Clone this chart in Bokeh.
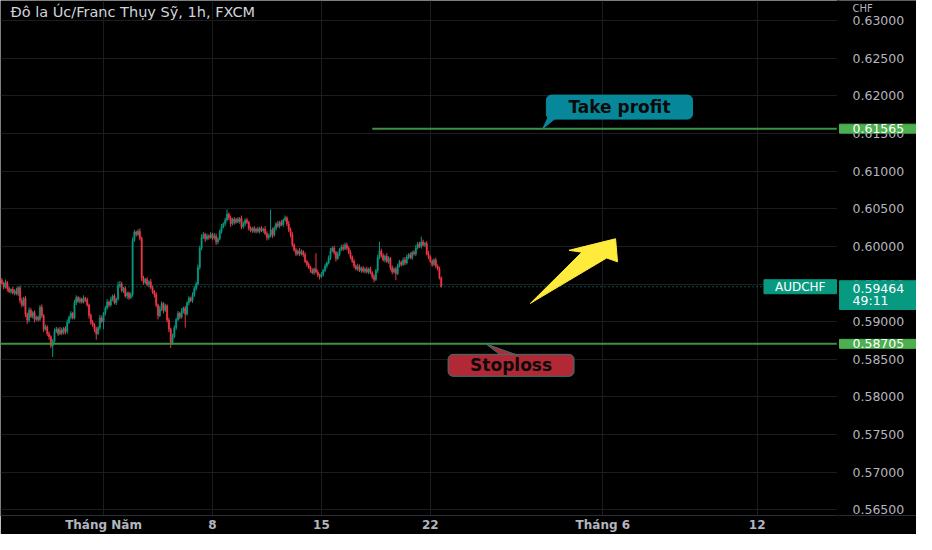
from bokeh.plotting import figure
from bokeh.models import ColumnDataSource, FixedTicker, PrintfTickFormatter, Label, BoxAnnotation
from bokeh.embed import file_html
from bokeh.resources import INLINE

# ---------------- data ----------------
title_text = "Đô la Úc/Franc Thụy Sỹ, 1h, FXCM"
symbol = "AUDCHF"
currency = "CHF"
countdown = "49:11"

# trading-hour index of each 2h candle (0 = 1 May 00:00, weekends skipped)
bar_hours = list(range(-112, 374, 2))
first_open = 0.5955
closes = [
    0.5951, 0.5946, 0.5952, 0.5944, 0.5940, 0.5943, 0.5938, 0.5941, 0.5937, 0.5945,
    0.5928, 0.5922, 0.5931, 0.5910, 0.5902, 0.5915, 0.5907, 0.5912, 0.5903, 0.5906,
    0.5903, 0.5919, 0.5908, 0.5890, 0.5893, 0.5884, 0.5880, 0.5868, 0.5874, 0.5887,
    0.5890, 0.5884, 0.5889, 0.5885, 0.5891, 0.5887, 0.5899, 0.5906, 0.5911, 0.5905,
    0.5925, 0.5932, 0.5927, 0.5930, 0.5926, 0.5931, 0.5929, 0.5922, 0.5908, 0.5899,
    0.5896, 0.5890, 0.5884, 0.5892, 0.5905, 0.5900, 0.5911, 0.5918, 0.5926, 0.5922,
    0.5930, 0.5934, 0.5925, 0.5930, 0.5948, 0.5950, 0.5941, 0.5944, 0.5934, 0.5938,
    0.5932, 0.5936, 0.6008, 0.6019, 0.6016, 0.6020, 0.6011, 0.5958, 0.5952, 0.5956,
    0.5949, 0.5953, 0.5945, 0.5940, 0.5936, 0.5922, 0.5908, 0.5917, 0.5924, 0.5915,
    0.5921, 0.5902, 0.5890, 0.5872, 0.5880, 0.5892, 0.5903, 0.5911, 0.5906, 0.5914,
    0.5918, 0.5910, 0.5925, 0.5931, 0.5928, 0.5935, 0.5944, 0.5950, 0.5972, 0.5998,
    0.6012, 0.6016, 0.6010, 0.6014, 0.6012, 0.6016, 0.6011, 0.6014, 0.6006, 0.6010,
    0.6020, 0.6026, 0.6030, 0.6035, 0.6043, 0.6038, 0.6030, 0.6036, 0.6032, 0.6036,
    0.6033, 0.6037, 0.6026, 0.6030, 0.6035, 0.6032, 0.6024, 0.6021, 0.6024, 0.6020,
    0.6023, 0.6020, 0.6024, 0.6021, 0.6023, 0.6017, 0.6012, 0.6015, 0.6022, 0.6015,
    0.6024, 0.6030, 0.6027, 0.6032, 0.6029, 0.6035, 0.6038, 0.6030, 0.6022, 0.6016,
    0.6002, 0.5995, 0.5990, 0.5994, 0.5990, 0.5993, 0.5989, 0.5980, 0.5976, 0.5972,
    0.5968, 0.5965, 0.5970, 0.5966, 0.5962, 0.5960, 0.5963, 0.5968, 0.5974, 0.5978,
    0.5985, 0.5994, 0.5998, 0.5992, 0.5984, 0.5990, 0.5996, 0.5999, 0.5997, 0.6002,
    0.5998, 0.5992, 0.5986, 0.5980, 0.5974, 0.5970, 0.5973, 0.5968, 0.5971, 0.5967,
    0.5970, 0.5966, 0.5970, 0.5965, 0.5960, 0.5956, 0.5968, 0.5985, 0.5994, 0.5988,
    0.5982, 0.5987, 0.5980, 0.5984, 0.5972, 0.5966, 0.5970, 0.5964, 0.5975, 0.5979,
    0.5976, 0.5982, 0.5978, 0.5986, 0.5989, 0.5985, 0.5992, 0.5990, 0.5998, 0.6003,
    0.6000, 0.6006, 0.6002, 0.6004, 0.5990, 0.5986, 0.5980, 0.5976, 0.5982, 0.5974,
    0.5970, 0.5958, 0.59464,
]
# wick lengths beyond the candle body, in pips
upper_wick_pips = [
    3, 2, 4, 2, 3, 1, 3, 2, 4, 2,
    3, 4, 2, 3, 2, 4, 3, 2, 3, 2,
    2, 3, 4, 2, 3, 2, 3, 2, 3, 4,
    3, 2, 4, 3, 2, 3, 4, 2, 3, 2,
    4, 3, 2, 3, 2, 4, 2, 3, 2, 3,
    3, 2, 3, 2, 4, 3, 2, 3, 4, 2,
    3, 2, 3, 2, 5, 4, 3, 2, 3, 2,
    2, 3, 4, 3, 2, 3, 4, 2, 3, 2,
    3, 2, 4, 3, 2, 3, 2, 4, 3, 2,
    3, 2, 3, 2, 4, 3, 2, 3, 2, 4,
    2, 3, 2, 3, 2, 4, 3, 3, 4, 3,
    4, 3, 2, 3, 2, 3, 2, 4, 3, 2,
    3, 4, 2, 3, 6, 2, 3, 2, 3, 2,
    3, 2, 4, 3, 2, 3, 2, 3, 2, 3,
    2, 3, 2, 3, 2, 4, 3, 2, 27, 3,
    3, 2, 4, 2, 3, 2, 3, 2, 4, 3,
    3, 2, 3, 2, 4, 3, 2, 3, 2, 3,
    2, 3, 2, 21, 3, 2, 3, 2, 3, 2,
    3, 4, 2, 3, 2, 3, 2, 3, 4, 3,
    3, 2, 3, 2, 3, 2, 4, 3, 2, 3,
    2, 3, 2, 3, 2, 3, 2, 4, 12, 3,
    3, 2, 4, 3, 2, 3, 2, 3, 2, 3,
    2, 3, 4, 3, 2, 3, 2, 3, 4, 3,
    3, 7, 3, 2, 3, 4, 2, 3, 2, 3,
    2, 3, 2,
]
lower_wick_pips = [
    2, 3, 2, 4, 2, 3, 2, 3, 2, 3,
    4, 3, 2, 4, 5, 3, 2, 3, 4, 2,
    3, 2, 3, 4, 2, 3, 4, 3, 15, 2,
    2, 3, 2, 3, 2, 4, 3, 2, 3, 2,
    2, 3, 2, 3, 2, 2, 3, 2, 4, 3,
    3, 4, 8, 2, 3, 2, 10, 3, 2, 3,
    2, 3, 2, 3, 2, 3, 2, 3, 2, 4,
    3, 2, 3, 2, 3, 2, 3, 4, 3, 2,
    2, 3, 2, 3, 4, 3, 5, 2, 3, 4,
    2, 3, 4, 7, 3, 2, 3, 2, 3, 2,
    3, 18, 2, 3, 2, 3, 2, 3, 2, 3,
    3, 2, 4, 2, 3, 2, 3, 2, 4, 3,
    2, 3, 2, 3, 2, 3, 4, 2, 3, 2,
    2, 3, 3, 2, 3, 2, 3, 2, 3, 2,
    3, 2, 3, 2, 3, 2, 4, 3, 3, 4,
    2, 3, 2, 3, 2, 3, 2, 3, 3, 4,
    3, 2, 3, 2, 3, 2, 3, 2, 3, 2,
    3, 2, 3, 2, 3, 4, 2, 3, 2, 3,
    2, 3, 2, 3, 4, 2, 3, 2, 3, 2,
    3, 2, 3, 2, 3, 2, 3, 2, 3, 2,
    3, 2, 3, 2, 3, 4, 2, 3, 2, 3,
    2, 3, 2, 3, 4, 3, 2, 9, 2, 3,
    3, 2, 3, 2, 3, 2, 3, 2, 3, 2,
    2, 3, 2, 3, 2, 3, 2, 3, 2, 3,
    2, 2, 1,
]

date_ticks = [0, 120, 240, 360, 550, 720]
date_labels = ["Tháng Năm", "8", "15", "22", "Tháng 6", "12"]
price_ticks = [0.565, 0.570, 0.575, 0.580, 0.585, 0.590, 0.595,
               0.600, 0.605, 0.610, 0.615, 0.620, 0.625, 0.630]

last_price = 0.59464
take_profit = 0.61565
stop_loss = 0.58705
take_profit_from = 296          # hour where the take-profit line starts

# drawing annotations (data coordinates: hour index, price)
arrow_hours = [470.2, 526.9, 512.7, 564.0, 566.2, 554.2]
arrow_prices = [0.59243, 0.59923, 0.59948, 0.60102, 0.59795, 0.59846]
tp_box_center = (568.3, 0.61852)
tp_pointer_hours = [489.8, 499.6, 483.8]
tp_pointer_prices = [0.61720, 0.61720, 0.61565]
sl_box_center = (448.9, 0.58419)
sl_pointer_hours = [421.1, 438.5, 458.2]
sl_pointer_prices = [0.58705, 0.58545, 0.58545]

pane_end = 808.5                 # hour where the price pane meets the price scale
x_view = (-113.5, 895.5)         # includes the price-scale strip
y_view = (0.56423, 0.63269)

# ---------------- derived candle table ----------------
opens = [first_open] + closes[:-1]
highs = [max(o, c) + w * 1e-4 for o, c, w in zip(opens, closes, upper_wick_pips)]
lows = [min(o, c) - w * 1e-4 for o, c, w in zip(opens, closes, lower_wick_pips)]
UP, DOWN = "#089981", "#f23645"
src = ColumnDataSource(dict(
    x=bar_hours, open=opens, close=closes, high=highs, low=lows,
    top=[max(o, c) for o, c in zip(opens, closes)],
    bottom=[min(o, c) for o, c in zip(opens, closes)],
    color=[UP if c >= o else DOWN for o, c in zip(opens, closes)],
))

FONT = "DejaVu Sans"
BG = "#000000"
GRID = "#1a1c22"
AXIS_TEXT = "#b2b5be"
LINE_GREEN = "#3f9142"
TAG_GREEN = "#4caf50"

p = figure(width=916, height=534, x_range=x_view, y_range=y_view,
           output_backend="svg", toolbar_location=None, y_axis_location="right",
           min_border_left=0, min_border_top=0, min_border_right=0,
           min_border_bottom=16)
p.background_fill_color = BG
p.border_fill_color = BG
p.outline_line_color = None

# price scale: right axis pinned at the pane edge (takes no extra panel space)
ya = p.yaxis[0]
ya.fixed_location = pane_end
ya.ticker = FixedTicker(ticks=price_ticks)
ya.formatter = PrintfTickFormatter(format="%.5f")
ya.major_label_text_font = FONT
ya.major_label_text_font_size = "12.5px"
ya.major_label_text_color = AXIS_TEXT
ya.major_label_standoff = 15
ya.major_tick_out = 0
ya.major_tick_in = 0
ya.minor_tick_out = 0
ya.minor_tick_in = 0
ya.axis_line_color = BG
ya.major_tick_line_color = None
ya.minor_tick_line_color = None

xa = p.xaxis[0]
xa.ticker = FixedTicker(ticks=date_ticks)
xa.major_label_overrides = {t: l for t, l in zip(date_ticks, date_labels)}
xa.major_label_text_font = FONT
xa.major_label_text_font_size = "12px"
xa.major_label_text_font_style = "bold"
xa.major_label_text_color = AXIS_TEXT
xa.major_label_standoff = 2
xa.major_tick_out = 0
xa.major_tick_in = 0
xa.minor_tick_out = 0
xa.minor_tick_in = 0
xa.major_tick_line_color = None
xa.minor_tick_line_color = None
xa.axis_line_color = "#2a2e39"

p.xgrid.ticker = FixedTicker(ticks=date_ticks)
p.ygrid.ticker = FixedTicker(ticks=price_ticks)
p.grid.grid_line_color = GRID
p.grid.grid_line_width = 1

# blank price-scale strip (hides grid lines there)
p.add_layout(BoxAnnotation(left=pane_end, fill_color=BG, fill_alpha=1.0,
                           line_color=None, level="underlay"))

# candles
p.segment(x0="x", y0="low", x1="x", y1="high", color="color", line_width=1, source=src)
p.vbar(x="x", width=1.4, top="top", bottom="bottom", fill_color="color",
       line_color="color", line_width=0.5, source=src)

# horizontal levels
p.segment(x0=[x_view[0]], y0=[last_price], x1=[pane_end], y1=[last_price],
          line_color=UP, line_width=1, line_dash="1 3")
p.segment(x0=[take_profit_from], y0=[take_profit], x1=[pane_end], y1=[take_profit],
          line_color=LINE_GREEN, line_width=2)
p.segment(x0=[x_view[0]], y0=[stop_loss], x1=[pane_end], y1=[stop_loss],
          line_color=LINE_GREEN, line_width=2)

# arrow
p.patch(arrow_hours, arrow_prices, fill_color="#ffeb3b", line_color="#ffeb3b", line_width=1)

# callouts
TP_COLOR = "#07889a"
SL_COLOR = "#b22834"
p.patch(tp_pointer_hours, tp_pointer_prices, fill_color=TP_COLOR, line_color=TP_COLOR)
p.patch(sl_pointer_hours, sl_pointer_prices, fill_color=SL_COLOR, line_color="#2d7a78")
p.add_layout(Label(x=tp_box_center[0], y=tp_box_center[1], text="Take profit",
                   text_font=FONT, text_font_size="17px", text_font_style="bold",
                   text_color="#0b0b0b", text_align="center", text_baseline="middle",
                   background_fill_color=TP_COLOR, border_line_color=TP_COLOR,
                   border_radius=5, padding=dict(left=22, right=22, top=2, bottom=2)))
p.add_layout(Label(x=sl_box_center[0], y=sl_box_center[1], text="Stoploss",
                   text_font=FONT, text_font_size="17px", text_font_style="bold",
                   text_color="#0b0b0b", text_align="center", text_baseline="middle",
                   background_fill_color=SL_COLOR, border_line_color="#2d7a78",
                   border_radius=5, padding=dict(left=22, right=22, top=1, bottom=1)))

# black strip over the pane/scale seam
p.add_layout(BoxAnnotation(left=pane_end - 0.8, right=pane_end + 3.2, fill_color=BG,
                           fill_alpha=1.0, line_color=None, level="overlay"))

# title
p.add_layout(Label(x=x_view[0], y=y_view[1], x_offset=10, y_offset=-3, text=title_text,
                   text_font=FONT, text_font_size="14.5px", text_color="#d1d4dc",
                   text_align="left", text_baseline="top"))
# currency over the price scale
p.add_layout(Label(x=pane_end, y=y_view[1], x_offset=15, y_offset=-2, text=currency,
                   text_font=FONT, text_font_size="10px", text_color=AXIS_TEXT,
                   text_align="left", text_baseline="top"))

# symbol tag inside the pane
p.add_layout(Label(x=pane_end, y=last_price, x_offset=-1, text=symbol, level="overlay",
                   text_font=FONT, text_font_size="12px", text_color="#ffffff",
                   text_align="right", text_baseline="middle",
                   background_fill_color=UP, border_line_color=UP,
                   padding=dict(left=11, right=11, top=0, bottom=0)))

# price tags on the price scale
for price, color in ((take_profit, TAG_GREEN), (stop_loss, TAG_GREEN)):
    p.add_layout(Label(x=pane_end, x_offset=2, y=price, text=f"{price:.5f}", level="overlay",
                       text_font=FONT, text_font_size="12.5px", text_color="#ffffff",
                       text_align="left", text_baseline="middle",
                       background_fill_color=color, border_line_color=color,
                       padding=dict(left=13, right=12, top=0, bottom=0)))
p.add_layout(Label(x=pane_end, x_offset=2, y=last_price, y_offset=6, level="overlay",
                   text=f"{last_price:.5f}\n{countdown}",
                   text_font=FONT, text_font_size="12.5px", text_color="#ffffff",
                   text_align="left", text_baseline="top", text_line_height=0.85,
                   background_fill_color=UP, border_line_color=UP,
                   padding=dict(left=13, right=12, top=0, bottom=1)))

open("out.html", "w").write(file_html(p, INLINE))
